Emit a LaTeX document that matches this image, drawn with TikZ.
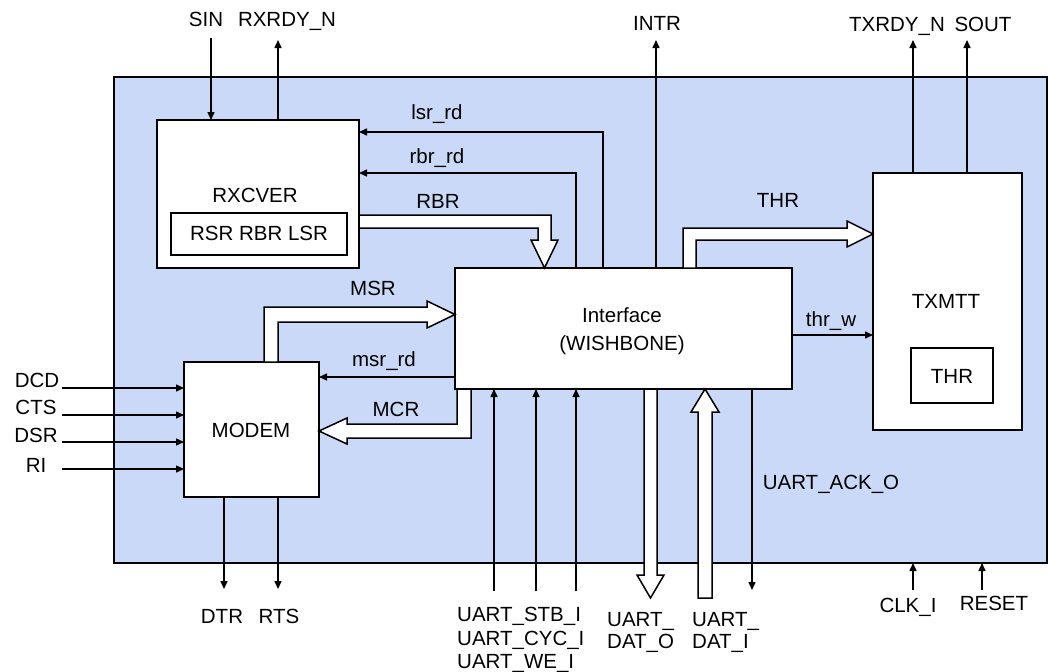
\documentclass[tikz,border=0pt]{standalone}
\usepackage{fontspec}
\setmainfont{Liberation Sans}
\usetikzlibrary{arrows.meta,fit}
\definecolor{bgblue}{RGB}{202,217,247}
\begin{document}
\begin{tikzpicture}[x=1pt,y=-1pt,
  blk/.style={draw=black, line width=1.8pt, fill=white, inner sep=0pt, outer sep=0pt},
  sig/.style={line width=1.5pt, -{Triangle[length=8pt,width=7pt]}},
  bus/.style={draw=black, line width=1.5pt, fill=white, line join=miter},
  lbl/.style={font=\fontsize{20.5}{24}\selectfont, inner sep=0pt, anchor=base}]
\useasboundingbox (0,0) rectangle (1050,672);
% blocks
\node[blk, fill=bgblue, fit={(114,77)(1047,563)}] (uart) {};
\node[blk, fit={(157,120)(359,268)}] (rx) {};
\node[blk, fit={(171,213)(347,255)}] (rxregs) {};
\node[blk, fit={(455,268)(792,389)}] (ifc) {};
\node[blk, fit={(184,362)(319,497)}] (modem) {};
\node[blk, fit={(873,173)(1022,430)}] (tx) {};
\node[blk, fit={(911,348)(993,403)}] (txthr) {};
% block texts
\node[lbl] (trx) at (255,202) {RXCVER};
\node[lbl] (trxregs) at (259,240) {RSR RBR LSR};
\node[lbl] (tifc1) at (622,322) {Interface};
\node[lbl] (tifc2) at (622,350) {(WISHBONE)};
\node[lbl] (tmodem) at (251,437) {MODEM};
\node[lbl] (ttx) at (946,308) {TXMTT};
\node[lbl] (ttxthr) at (952,383) {THR};
% free ends
\coordinate (sinin) at (211,38);
\coordinate (rxrdy) at (278,40);
\coordinate (lsrc) at (603,132);
\coordinate (rbrc) at (576,173);
\coordinate (intr) at (656,40);
\coordinate (txrdy) at (913,40);
\coordinate (sout) at (967,40);
\coordinate (thrw) at (792,335);
\coordinate (msrrd) at (455,377);
\coordinate (dcd) at (62,388);
\coordinate (cts) at (62,415);
\coordinate (dsr) at (62,442);
\coordinate (ri) at (62,469);
\coordinate (dtr) at (224,589);
\coordinate (rts) at (278,589);
\coordinate (stb) at (494,591);
\coordinate (cyc) at (536,591);
\coordinate (we) at (576,591);
\coordinate (ack) at (752,590);
\coordinate (clk) at (913,590);
\coordinate (rst) at (982,590);
% thin signals
\draw[sig] (sinin) -- (sinin |- rx.north);
\draw[sig] (rxrdy |- rx.north) -- (rxrdy);
\draw[sig] (lsrc |- ifc.north) -- (lsrc) -- (lsrc -| rx.east);
\draw[sig] (rbrc |- ifc.north) -- (rbrc) -- (rbrc -| rx.east);
\draw[sig] (intr |- ifc.north) -- (intr);
\draw[sig] (txrdy |- tx.north) -- (txrdy);
\draw[sig] (sout |- tx.north) -- (sout);
\draw[sig] (thrw) -- (thrw -| tx.west);
\draw[sig] (msrrd) -- (msrrd -| modem.east);
\draw[sig] (dcd) -- (dcd -| modem.west);
\draw[sig] (cts) -- (cts -| modem.west);
\draw[sig] (dsr) -- (dsr -| modem.west);
\draw[sig] (ri) -- (ri -| modem.west);
\draw[sig] (dtr |- modem.south) -- (dtr);
\draw[sig] (rts |- modem.south) -- (rts);
\draw[sig] (stb) -- (stb |- ifc.south);
\draw[sig] (cyc) -- (cyc |- ifc.south);
\draw[sig] (we) -- (we |- ifc.south);
\draw[sig] (ack |- ifc.south) -- (ack);
\draw[sig] (clk) -- (clk |- uart.south);
\draw[sig] (rst) -- (rst |- uart.south);
% bus arrows
\draw[bus] (rx.east |- 0,215) -- (551,215) -- (551,240) -- (558,240) -- (544.5,268) -- (531,240) -- (538,240) -- (538,228) -- (rx.east |- 0,228) -- cycle;
\draw[bus] (683,268) -- (683,228) -- (847,228) -- (847,221) -- (tx.west |- 0,234) -- (847,247) -- (847,240) -- (696,240) -- (696,268) -- cycle;
\draw[bus] (264,362) -- (264,307) -- (427,307) -- (427,301) -- (ifc.west |- 0,314.5) -- (427,328) -- (427,322) -- (278,322) -- (278,362) -- cycle;
\draw[bus] (457,389) -- (457,424) -- (347,424) -- (347,418) -- (modem.east |- 0,431) -- (347,444) -- (347,438) -- (471,438) -- (471,389) -- cycle;
\draw[bus] (644,389) -- (644,575) -- (637,575) -- (650.5,598) -- (664,575) -- (657,575) -- (657,389) -- cycle;
\draw[bus] (698,598) -- (698,412) -- (691,412) -- (705,389) -- (719,412) -- (712,412) -- (712,598) -- cycle;
% labels
\node[lbl] (lsin) at (206,26) {SIN};
\node[lbl] (lrxrdy) at (287,26) {RXRDY\_N};
\node[lbl] (llsr) at (437,119) {lsr\_rd};
\node[lbl] (lrbr) at (437,163) {rbr\_rd};
\node[lbl] (lrbrbus) at (438,208) {RBR};
\node[lbl] (lintr) at (657,30) {INTR};
\node[lbl] (ltxrdy) at (897,31) {TXRDY\_N};
\node[lbl] (lsout) at (983,31) {SOUT};
\node[lbl] (lthr) at (778,207) {THR};
\node[lbl] (lmsr) at (373,295) {MSR};
\node[lbl] (lmsrrd) at (384,366) {msr\_rd};
\node[lbl] (lmcr) at (396,416) {MCR};
\node[lbl] (ldcd) at (37,387) {DCD};
\node[lbl] (lcts) at (36,414) {CTS};
\node[lbl] (ldsr) at (36,442) {DSR};
\node[lbl] (lri) at (36,472) {RI};
\node[lbl] (ldtr) at (222,623) {DTR};
\node[lbl] (lrts) at (279,623) {RTS};
\node[lbl, anchor=base west] (lstb) at (457,621) {UART\_STB\_I};
\node[lbl, anchor=base west] (lcyc) at (457,645) {UART\_CYC\_I};
\node[lbl, anchor=base west] (lwe) at (457,668) {UART\_WE\_I};
\node[lbl, anchor=base west] (ldato1) at (607,626) {UART\_};
\node[lbl, anchor=base west] (ldato2) at (607,648) {DAT\_O};
\node[lbl, anchor=base west] (ldati1) at (692,626) {UART\_};
\node[lbl, anchor=base west] (ldati2) at (692,648) {DAT\_I};
\node[lbl] (lthrw) at (831,326) {thr\_w};
\node[lbl] (lack) at (831,489) {UART\_ACK\_O};
\node[lbl] (lclk) at (908,612) {CLK\_I};
\node[lbl] (lrst) at (994,610) {RESET};
\end{tikzpicture}
\end{document}
